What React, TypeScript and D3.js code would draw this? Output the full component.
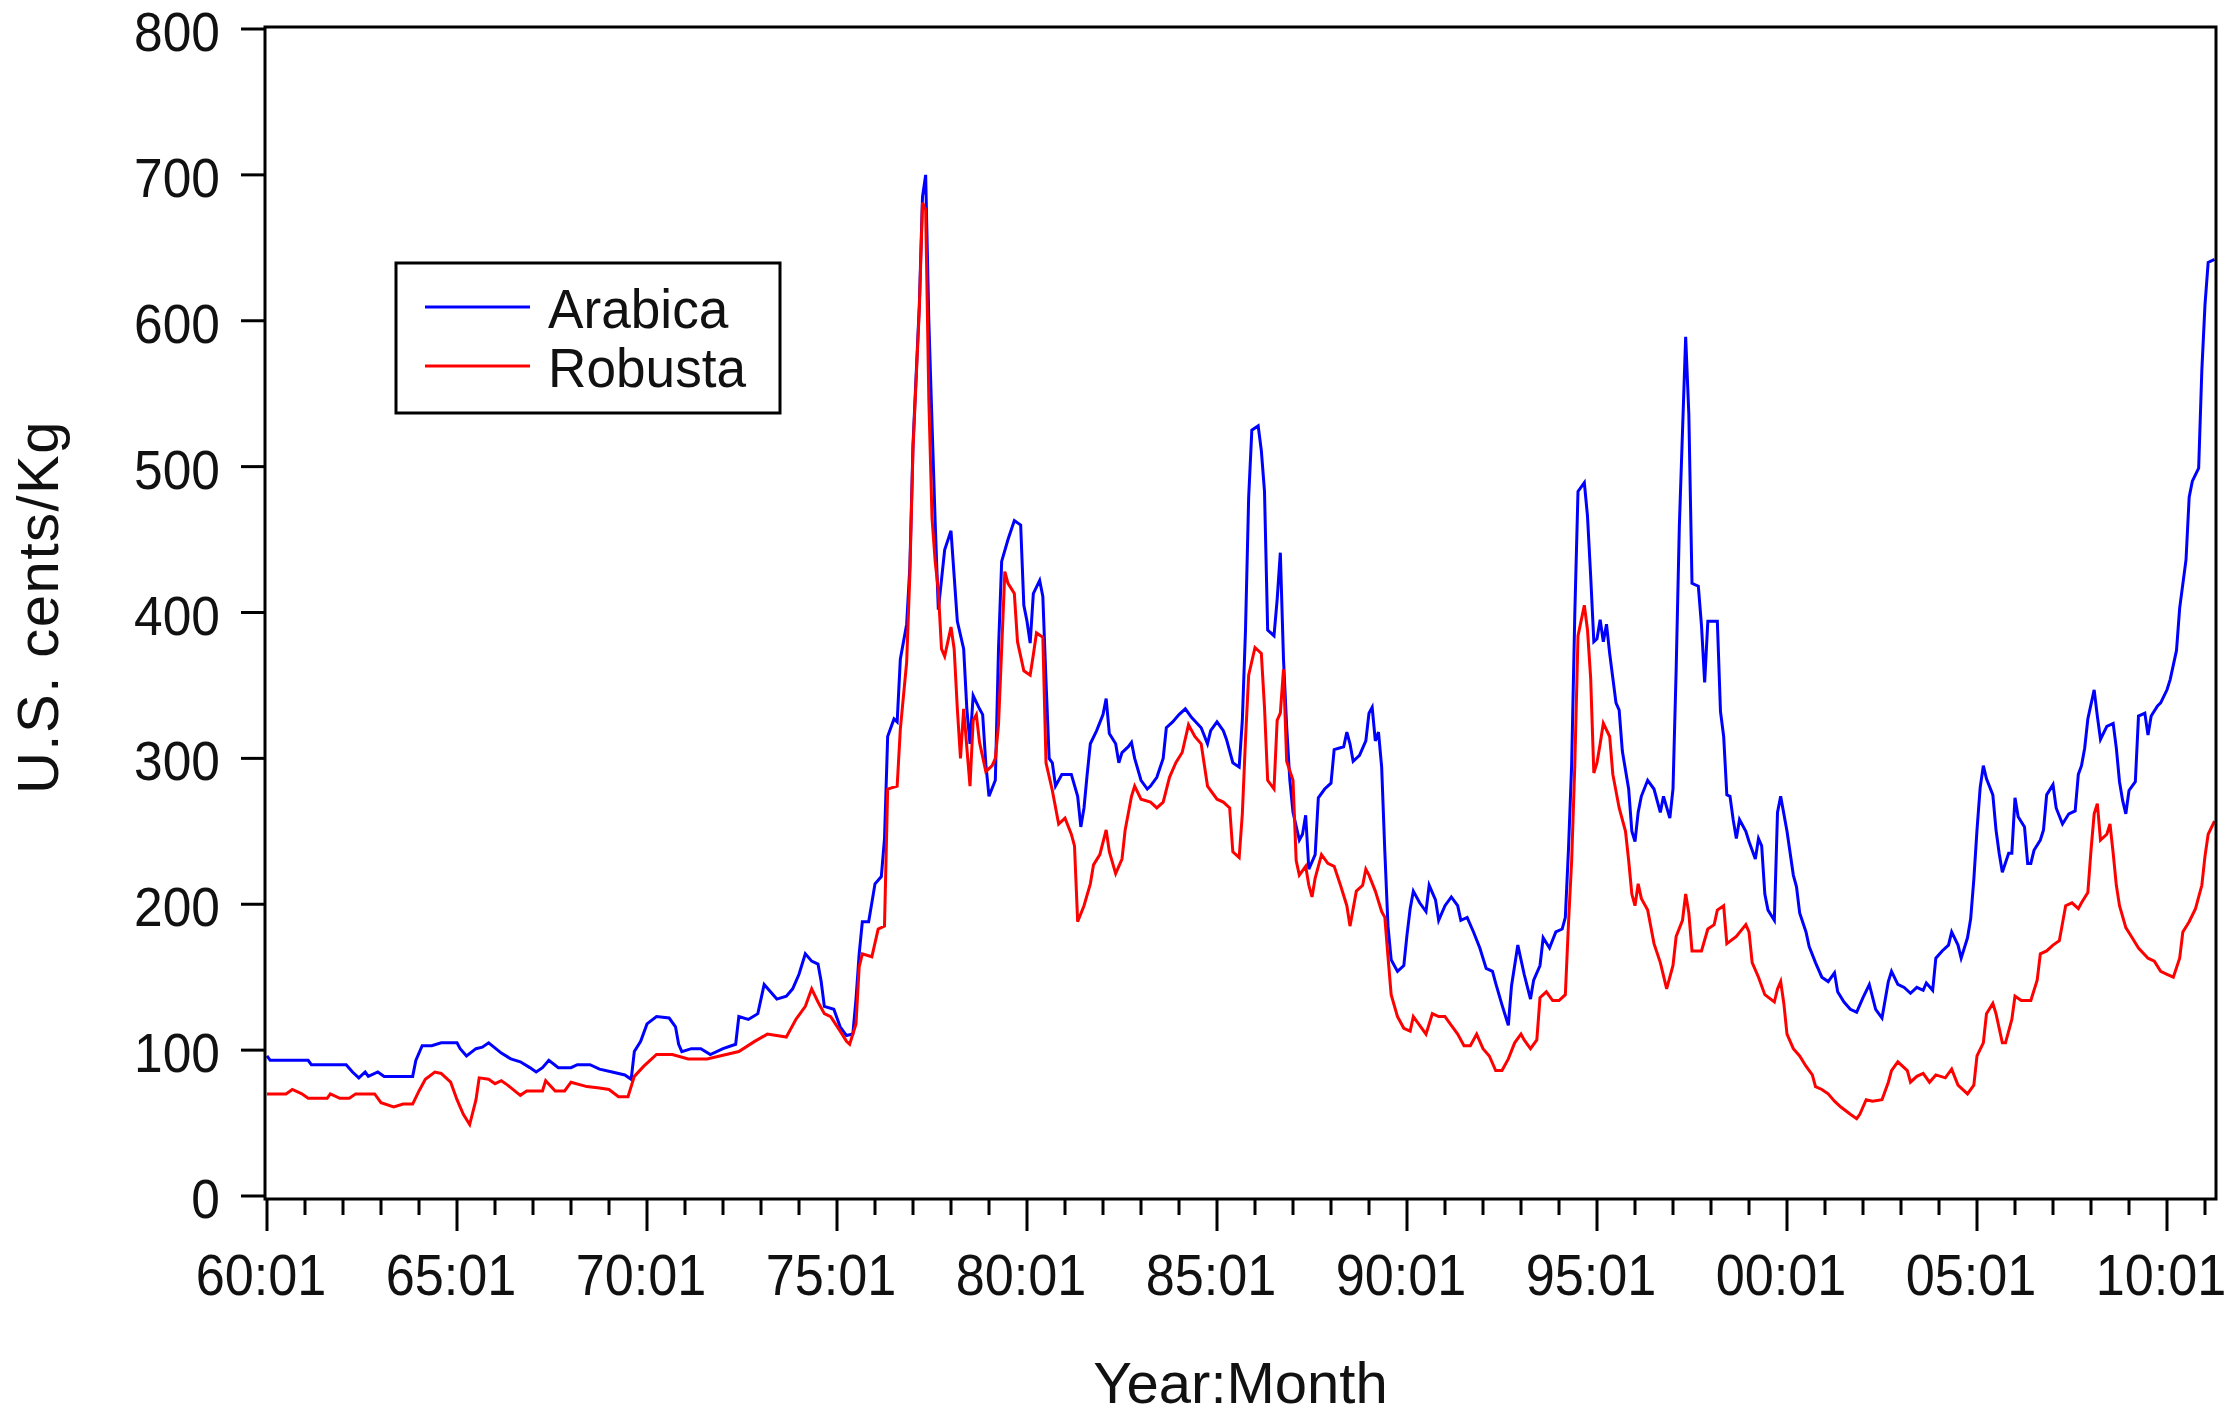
import React from "react";
import * as d3 from "d3";

// Monthly coffee prices, months counted from 1960:01 (index 0).
const arabica: [number, number][] = [
  [0, 96], [1, 93], [13, 93], [14, 90], [25, 90], [27, 85], [29, 81], [31, 85], [32, 82], [35, 85],
  [37, 82], [46, 82], [47, 93], [49, 103], [52, 103], [55, 105], [60, 105], [61, 101], [63, 96], [66, 101],
  [68, 102], [70, 105], [74, 98], [77, 94], [80, 92], [83, 88], [85, 85], [87, 88], [89, 93], [92, 88],
  [96, 88], [98, 90], [102, 90], [105, 87], [109, 85], [113, 83], [115, 80], [116, 99], [118, 106], [120, 118],
  [123, 123], [127, 122], [129, 116], [130, 104], [131, 99], [134, 101], [137, 101], [140, 97], [144, 101], [148, 104],
  [149, 123], [152, 121], [155, 125], [157, 145], [159, 140], [161, 135], [164, 137], [166, 142], [168, 152], [170, 166],
  [172, 161], [174, 159], [175, 147], [176, 130], [179, 128], [181, 116], [183, 110], [185, 111], [186, 135], [187, 166],
  [188, 188], [190, 188], [192, 214], [194, 219], [195, 245], [196, 315], [198, 327], [199, 325], [200, 368], [202, 392],
  [203, 431], [204, 515], [206, 611], [207, 685], [208, 700], [209, 600], [210, 530], [211, 462], [212, 402], [214, 443],
  [216, 456], [217, 425], [218, 394], [220, 375], [221, 334], [222, 310], [223, 343], [225, 334], [226, 330], [227, 296],
  [228, 274], [230, 285], [231, 375], [232, 435], [234, 450], [236, 463], [238, 460], [239, 405], [240, 394], [241, 379],
  [242, 413], [244, 422], [245, 411], [246, 353], [247, 300], [248, 297], [249, 281], [251, 289], [254, 289], [256, 274],
  [257, 253], [258, 266], [259, 289], [260, 310], [262, 319], [264, 330], [265, 341], [266, 317], [268, 310], [269, 297],
  [270, 304], [272, 308], [273, 311], [274, 300], [276, 285], [278, 279], [279, 281], [281, 287], [283, 300], [284, 321],
  [286, 325], [288, 330], [290, 334], [292, 328], [295, 321], [297, 310], [298, 319], [300, 325], [302, 319], [303, 313],
  [305, 297], [307, 294], [308, 326], [309, 388], [310, 479], [311, 525], [313, 528], [314, 511], [315, 483], [316, 388],
  [318, 384], [319, 409], [320, 441], [321, 368], [322, 322], [323, 285], [324, 263], [326, 244], [327, 248], [328, 261],
  [329, 224], [331, 234], [332, 273], [334, 279], [336, 283], [337, 306], [340, 308], [341, 318], [342, 310], [343, 298],
  [345, 302], [347, 312], [348, 331], [349, 335], [350, 312], [351, 318], [352, 294], [353, 236], [354, 185], [355, 162],
  [357, 154], [359, 158], [360, 179], [361, 197], [362, 209], [364, 201], [366, 195], [367, 213], [369, 203], [370, 189],
  [372, 199], [374, 205], [376, 199], [377, 189], [379, 191], [381, 181], [383, 170], [385, 156], [387, 154], [388, 146],
  [390, 131], [392, 117], [393, 144], [395, 172], [397, 152], [399, 135], [400, 148], [402, 158], [403, 177], [405, 170],
  [407, 181], [409, 183], [410, 191], [411, 238], [412, 296], [413, 400], [414, 483], [416, 489], [417, 466], [418, 425],
  [419, 380], [420, 382], [421, 395], [422, 380], [423, 392], [424, 372], [425, 355], [426, 338], [427, 333], [428, 305],
  [430, 279], [431, 250], [432, 243], [433, 263], [434, 274], [436, 285], [438, 279], [440, 263], [441, 274], [443, 259],
  [444, 279], [445, 361], [446, 459], [448, 589], [449, 536], [450, 420], [452, 418], [453, 391], [454, 352], [455, 394],
  [458, 394], [459, 332], [460, 315], [461, 275], [462, 274], [463, 258], [464, 245], [465, 258], [467, 250], [468, 243],
  [470, 231], [471, 245], [472, 240], [473, 207], [474, 196], [476, 189], [477, 263], [478, 274], [480, 250], [482, 220],
  [483, 212], [484, 194], [486, 181], [487, 171], [489, 160], [491, 150], [493, 147], [495, 153], [496, 140], [498, 133],
  [500, 128], [502, 126], [504, 136], [506, 145], [508, 128], [510, 122], [512, 147], [513, 154], [515, 145], [517, 143],
  [519, 139], [521, 143], [523, 141], [524, 146], [526, 141], [527, 163], [529, 168], [531, 172], [532, 181], [534, 172],
  [535, 163], [537, 177], [538, 190], [539, 217], [540, 251], [541, 280], [542, 295], [543, 286], [545, 275], [546, 251],
  [547, 235], [548, 222], [550, 235], [551, 235], [552, 273], [553, 260], [555, 253], [556, 228], [557, 228], [558, 237],
  [560, 244], [561, 251], [562, 275], [564, 282], [565, 266], [567, 255], [569, 262], [571, 264], [572, 289], [573, 295],
  [574, 307], [575, 327], [577, 347], [578, 329], [579, 313], [581, 322], [583, 324], [584, 307], [585, 284], [586, 271],
  [587, 262], [588, 278], [590, 284], [591, 329], [593, 331], [594, 316], [595, 329], [597, 336], [598, 338], [600, 347],
  [601, 354], [603, 374], [604, 403], [606, 436], [607, 479], [608, 490], [610, 499], [611, 566], [612, 611], [613, 640],
  [615, 642],
];

const robusta: [number, number][] = [
  [0, 70], [6, 70], [8, 73], [11, 70], [13, 67], [19, 67], [20, 70], [23, 67], [26, 67], [28, 70],
  [34, 70], [36, 64], [40, 61], [43, 63], [46, 63], [48, 72], [50, 80], [53, 85], [55, 84], [58, 78],
  [60, 66], [62, 56], [64, 49], [66, 66], [67, 81], [70, 80], [72, 77], [74, 79], [76, 76], [80, 69],
  [82, 72], [87, 72], [88, 79], [91, 72], [94, 72], [96, 78], [101, 75], [105, 74], [108, 73], [111, 68],
  [114, 68], [116, 82], [119, 89], [123, 97], [128, 97], [133, 94], [139, 94], [145, 97], [149, 99], [154, 106],
  [158, 111], [164, 109], [167, 121], [170, 130], [172, 142], [174, 133], [176, 125], [178, 123], [181, 113], [183, 106],
  [184, 104], [186, 118], [187, 157], [188, 166], [191, 164], [193, 183], [195, 185], [196, 279], [199, 281], [200, 320],
  [202, 366], [203, 426], [204, 512], [206, 608], [207, 681], [208, 676], [209, 546], [210, 465], [211, 435], [212, 415],
  [213, 375], [214, 370], [216, 390], [217, 375], [218, 334], [219, 300], [220, 334], [222, 281], [223, 326], [224, 330],
  [225, 311], [227, 291], [229, 295], [230, 300], [231, 323], [232, 375], [233, 428], [234, 420], [236, 413], [237, 380],
  [239, 360], [241, 357], [242, 371], [243, 386], [245, 383], [246, 297], [248, 278], [250, 255], [252, 259], [254, 248],
  [255, 240], [256, 188], [258, 199], [260, 214], [261, 227], [263, 234], [265, 251], [266, 236], [268, 221], [270, 231],
  [271, 251], [273, 274], [274, 281], [276, 272], [279, 270], [281, 266], [283, 270], [285, 287], [287, 297], [289, 304],
  [291, 323], [293, 315], [295, 310], [297, 281], [300, 272], [302, 270], [304, 266], [305, 236], [307, 232], [308, 262],
  [309, 313], [310, 357], [312, 376], [314, 372], [315, 335], [316, 285], [318, 279], [319, 326], [320, 331], [321, 361],
  [322, 298], [324, 285], [325, 230], [326, 220], [328, 226], [329, 213], [330, 205], [331, 218], [333, 234], [335, 228],
  [337, 226], [339, 213], [341, 199], [342, 185], [344, 209], [346, 213], [347, 224], [348, 220], [350, 209], [352, 195],
  [353, 191], [354, 164], [355, 138], [357, 123], [359, 115], [361, 113], [362, 123], [364, 117], [366, 111], [368, 125],
  [370, 123], [372, 123], [374, 117], [376, 111], [378, 103], [380, 103], [382, 111], [384, 101], [386, 96], [388, 86],
  [390, 86], [392, 94], [394, 105], [396, 111], [397, 107], [399, 101], [401, 107], [402, 136], [404, 140], [406, 134],
  [408, 134], [410, 138], [411, 187], [412, 230], [413, 296], [414, 384], [416, 405], [417, 388], [418, 355], [419, 290],
  [420, 297], [421, 310], [422, 324], [424, 315], [425, 289], [427, 266], [429, 250], [430, 230], [431, 207], [432, 199],
  [433, 214], [434, 204], [436, 196], [438, 173], [440, 160], [442, 142], [444, 158], [445, 178], [447, 189], [448, 207],
  [449, 194], [450, 168], [453, 168], [455, 183], [457, 186], [458, 196], [460, 199], [461, 173], [464, 178], [467, 186],
  [468, 181], [469, 160], [471, 150], [473, 138], [476, 133], [477, 142], [478, 147], [479, 132], [480, 111], [482, 101],
  [484, 96], [486, 89], [488, 83], [489, 75], [491, 73], [493, 70], [495, 65], [497, 61], [500, 56], [502, 53],
  [503, 56], [505, 66], [507, 65], [510, 66], [512, 78], [513, 86], [515, 92], [518, 86], [519, 78], [521, 82],
  [523, 84], [525, 78], [527, 83], [530, 81], [532, 87], [534, 76], [537, 70], [539, 76], [540, 96], [542, 105],
  [543, 125], [545, 132], [546, 125], [548, 105], [549, 105], [551, 121], [552, 137], [554, 134], [557, 134], [559, 148],
  [560, 166], [562, 168], [564, 172], [566, 175], [568, 199], [570, 201], [572, 197], [573, 201], [575, 208], [576, 237],
  [577, 262], [578, 269], [579, 244], [581, 248], [582, 255], [583, 235], [584, 213], [585, 199], [587, 184], [589, 177],
  [591, 170], [594, 163], [596, 161], [598, 154], [600, 152], [602, 150], [604, 163], [605, 181], [607, 188], [609, 197],
  [611, 213], [612, 233], [613, 248], [615, 257],
];

const seriesNames = ["Arabica", "Robusta"];
const seriesColors = ["#0000ff", "#ff0000"];
const yTicks = [0, 100, 200, 300, 400, 500, 600, 700, 800];
const xMajorLabels = ["60:01", "65:01", "70:01", "75:01", "80:01", "85:01", "90:01", "95:01", "00:01", "05:01", "10:01"];
const yearTicks = d3.range(0, 613, 12); // one tick each January
const yTitle = "U.S. cents/Kg";
const xTitle = "Year:Month";

const W = 2225;
const H = 1418;
const frame = { left: 265, right: 2216, top: 27, bottom: 1199 };
const FONT = "'Liberation Sans', Arial, Helvetica, sans-serif";

export default function App() {
  const x = d3.scaleLinear().domain([0, 600]).range([267, 2167]);
  const y = d3.scaleLinear().domain([0, 800]).range([1196, 29]);
  const line = d3
    .line<[number, number]>()
    .x((d) => x(d[0]))
    .y((d) => y(d[1]));

  const plotCx = (frame.left + frame.right) / 2;
  const plotCy = (frame.top + frame.bottom) / 2;

  return (
    <svg
      width={W}
      height={H}
      viewBox={`0 0 ${W} ${H}`}
      style={{ position: "absolute", left: 0, top: 0, background: "#fff" }}
      fontFamily={FONT}
    >
      <rect x={0} y={0} width={W} height={H} fill="#fff" />

      {/* data lines: Arabica below, Robusta drawn over it */}
      <g fill="none" strokeWidth={3} strokeLinejoin="miter">
        <path d={line(arabica) || ""} stroke={seriesColors[0]} />
        <path d={line(robusta) || ""} stroke={seriesColors[1]} />
      </g>

      {/* plot frame */}
      <rect
        x={frame.left}
        y={frame.top}
        width={frame.right - frame.left}
        height={frame.bottom - frame.top}
        fill="none"
        stroke="#000"
        strokeWidth={3}
      />

      {/* y axis ticks and labels */}
      <g>
        {yTicks.map((t) => (
          <g key={t}>
            <line x1={frame.left - 24} x2={frame.left} y1={y(t)} y2={y(t)} stroke="#000" strokeWidth={3} />
            <text
              transform={`translate(${frame.left - 45},${y(t) + 22}) scale(0.92,1)`}
              textAnchor="end"
              fontSize={56}
              fill="#111"
            >
              {t}
            </text>
          </g>
        ))}
      </g>

      {/* x axis ticks: yearly minor, five-yearly major */}
      <g>
        {yearTicks.map((m) => {
          const major = m % 60 === 0;
          return (
            <line
              key={m}
              x1={x(m)}
              x2={x(m)}
              y1={frame.bottom}
              y2={frame.bottom + (major ? 32 : 16)}
              stroke="#000"
              strokeWidth={3}
            />
          );
        })}
        {xMajorLabels.map((lab, i) => (
          <text
            key={lab}
            transform={`translate(${x(i * 60) - 6},1295) scale(0.9,1)`}
            textAnchor="middle"
            fontSize={58}
            fill="#111"
          >
            {lab}
          </text>
        ))}
      </g>

      {/* axis titles */}
      <text x={plotCx} y={1403} textAnchor="middle" fontSize={58} fill="#111">
        {xTitle}
      </text>
      <text
        transform={`translate(58,${plotCy - 6}) rotate(-90)`}
        textAnchor="middle"
        fontSize={58}
        letterSpacing={1.5}
        fill="#111"
      >
        {yTitle}
      </text>

      {/* legend */}
      <g>
        <rect x={396} y={263} width={384} height={150} fill="#fff" stroke="#000" strokeWidth={3} />
        {seriesNames.map((name, i) => {
          const ly = 307 + i * 59;
          return (
            <g key={name}>
              <line x1={425} x2={530} y1={ly} y2={ly} stroke={seriesColors[i]} strokeWidth={3} />
              <text
                transform={`translate(548,${ly + 21}) scale(0.95,1)`}
                fontSize={56}
                fill="#111"
              >
                {name}
              </text>
            </g>
          );
        })}
      </g>
    </svg>
  );
}
